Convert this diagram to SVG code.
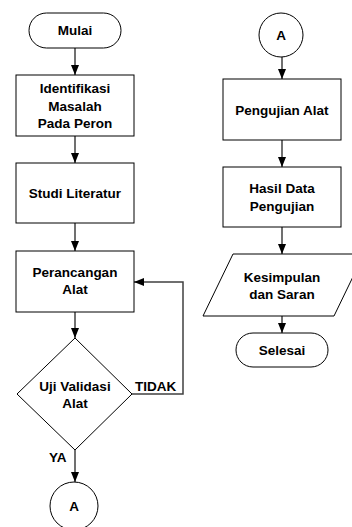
<svg xmlns="http://www.w3.org/2000/svg" width="352" height="527" viewBox="0 0 352 527">
<style>
.s{fill:#fff;stroke:#000;stroke-width:1}
.c{fill:none;stroke:#404040;stroke-width:1.5}
text{font-family:"Liberation Sans",Arial,sans-serif;font-weight:bold;font-size:13.5px;fill:#000;text-anchor:middle}
.l{text-anchor:start}
</style>
<defs>
<marker id="ah" markerUnits="userSpaceOnUse" markerWidth="10" markerHeight="8" refX="10" refY="4" orient="auto">
<path d="M0,0 L10,4 L0,8 z" fill="#000"/>
</marker>
</defs>
<g id="connectors">
<line class="c" x1="75" y1="48" x2="75" y2="75" marker-end="url(#ah)"/>
<line class="c" x1="75" y1="136" x2="75" y2="163" marker-end="url(#ah)"/>
<line class="c" x1="75" y1="223" x2="75" y2="251" marker-end="url(#ah)"/>
<line class="c" x1="75" y1="312" x2="75" y2="338" marker-end="url(#ah)"/>
<polyline class="c" points="132,394 183,394 183,282 134,282" marker-end="url(#ah)"/>
<line class="c" x1="75" y1="450" x2="75" y2="482" marker-end="url(#ah)"/>
<line class="c" x1="282" y1="57" x2="282" y2="79" marker-end="url(#ah)"/>
<line class="c" x1="282" y1="140" x2="282" y2="167" marker-end="url(#ah)"/>
<line class="c" x1="282" y1="227" x2="282" y2="254" marker-end="url(#ah)"/>
<line class="c" x1="282" y1="316" x2="282" y2="333" marker-end="url(#ah)"/>
<text class="l" x="135" y="390.5">TIDAK</text>
<text class="l" x="49" y="461.5">YA</text>
</g>
<g id="mulai">
<rect class="s" x="29" y="13" width="92" height="35" rx="17.5"/>
<text x="75" y="35">Mulai</text>
</g>
<g id="identifikasi">
<rect class="s" x="16" y="75" width="118" height="61"/>
<text x="75" y="93">Identifikasi</text>
<text x="75" y="110.5">Masalah</text>
<text x="75" y="128">Pada Peron</text>
</g>
<g id="studi">
<rect class="s" x="16" y="163" width="118" height="60"/>
<text x="75" y="197.5">Studi Literatur</text>
</g>
<g id="perancangan">
<rect class="s" x="16" y="251" width="118" height="61"/>
<text x="75" y="277">Perancangan</text>
<text x="75" y="294">Alat</text>
</g>
<g id="uji">
<polygon class="s" points="75,338 132,394 75,450 17,394"/>
<text x="75" y="390.5">Uji Validasi</text>
<text x="75" y="407.5">Alat</text>
</g>
<g id="a-bottom">
<circle class="s" cx="74" cy="506" r="24"/>
<text x="74" y="510.5">A</text>
</g>
<g id="a-top">
<circle class="s" cx="281" cy="35" r="22"/>
<text x="281" y="39.5">A</text>
</g>
<g id="pengujian">
<rect class="s" x="223" y="79" width="118" height="61"/>
<text x="282" y="114.5">Pengujian Alat</text>
</g>
<g id="hasil">
<rect class="s" x="223" y="167" width="118" height="60"/>
<text x="282" y="193">Hasil Data</text>
<text x="282" y="210.5">Pengujian</text>
</g>
<g id="kesimpulan">
<polygon class="s" points="233,254 364,254 334,316 203,316"/>
<text x="282" y="281.5">Kesimpulan</text>
<text x="282" y="299">dan Saran</text>
</g>
<g id="selesai">
<rect class="s" x="236" y="333" width="92" height="34" rx="17"/>
<text x="282" y="354.5">Selesai</text>
</g>
</svg>
